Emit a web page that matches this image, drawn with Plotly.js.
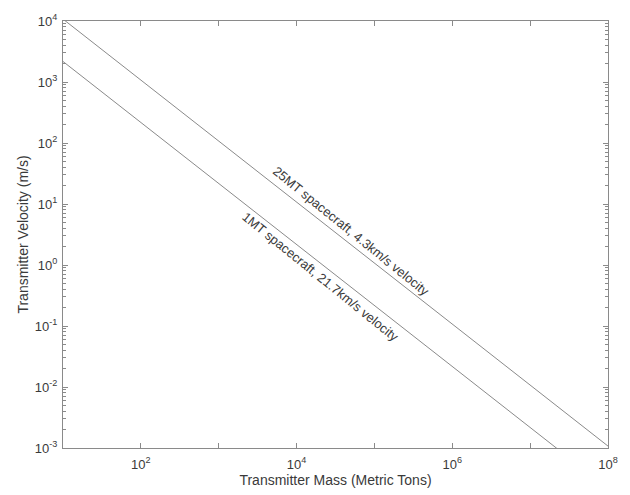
<!DOCTYPE html>
<html><head><meta charset="utf-8">
<script src="https://cdn.plot.ly/plotly-3.0.1.min.js"></script>
<style>html,body{margin:0;padding:0;background:#fff}#chart{width:630px;height:495px}</style>
</head><body><div id="chart"></div>
<script>
// Transmitter mass (metric tons) endpoints for each line
const massEnds = [10, 1e8];
// 25MT spacecraft at 4.3 km/s
const velocity25MT = [10750, 1.075e-3];
// 1MT spacecraft at 21.7 km/s
const velocity1MT = [2170, 2.17e-4];
const seriesLabels = ["25MT spacecraft, 4.3km/s velocity", "1MT spacecraft, 21.7km/s velocity"];
// label anchor positions (mass, velocity)
const labelMass = [5.1e4, 2.0e4];
const labelVel = [3.6, 0.64];

const xTickVals = [1e1,1e2,1e3,1e4,1e5,1e6,1e7,1e8];
const xTickText = ["", "10<sup>2</sup>", "", "10<sup>4</sup>", "", "10<sup>6</sup>", "", "10<sup>8</sup>"];
const yTickVals = [1e-3,1e-2,1e-1,1e0,1e1,1e2,1e3,1e4];
const yTickText = ["10<sup>-3</sup>","10<sup>-2</sup>","10<sup>-1</sup>","10<sup>0</sup>","10<sup>1</sup>","10<sup>2</sup>","10<sup>3</sup>","10<sup>4</sup>"];

const lineColor = "#8a8a8a";
const textColor = "#3a3a3a";
const fam = "Liberation Sans, Arial, sans-serif";

const traces = [
  {x: massEnds, y: velocity25MT, mode: "lines", line: {color: lineColor, width: 1}, hoverinfo: "skip"},
  {x: massEnds, y: velocity1MT, mode: "lines", line: {color: lineColor, width: 1}, hoverinfo: "skip"}
];

const angle = 39;
const annotations = seriesLabels.map((t, i) => ({
  x: Math.log10(labelMass[i]), y: Math.log10(labelVel[i]), xref: "x", yref: "y",
  text: t, showarrow: false, textangle: angle, font: {family: fam, size: 13, color: textColor}
}));

const axisCommon = {
  type: "log", showgrid: false, zeroline: false, showline: true, linecolor: lineColor, linewidth: 1,
  mirror: "ticks", ticks: "inside", ticklen: 5, tickcolor: lineColor, tickmode: "array",
  tickfont: {family: fam, size: 13, color: textColor}
};

const layout = {
  width: 630, height: 495,
  margin: {l: 63, r: 22, t: 21, b: 47},
  paper_bgcolor: "#fff", plot_bgcolor: "#fff",
  showlegend: false,
  font: {family: fam, size: 13, color: textColor},
  xaxis: Object.assign({}, axisCommon, {
    range: [1, 8], tickvals: xTickVals, ticktext: xTickText, ticklabelstandoff: 4,
    title: {text: "Transmitter Mass (Metric Tons)", font: {family: fam, size: 14, color: textColor}, standoff: 2}
  }),
  yaxis: Object.assign({}, axisCommon, {
    range: [-3, 4], tickvals: yTickVals, ticktext: yTickText, ticklabelstandoff: 2,
    minor: {ticks: "inside", ticklen: 3, tickcolor: lineColor, dtick: "D1", showgrid: false},
    title: {text: "Transmitter Velocity (m/s)", font: {family: fam, size: 14, color: textColor}, standoff: 2}
  }),
  annotations: annotations
};

Plotly.newPlot("chart", traces, layout, {displayModeBar: false, staticPlot: true});
</script></body></html>
